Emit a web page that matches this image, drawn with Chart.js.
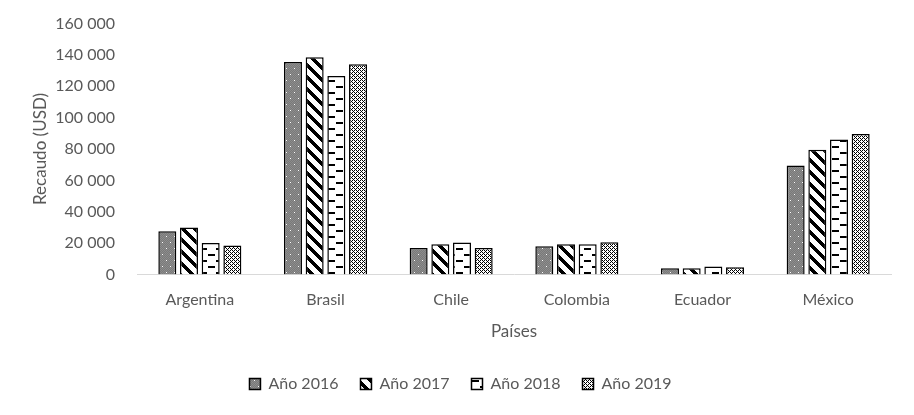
<!DOCTYPE html>
<html><head><meta charset="utf-8">
<script src="https://cdn.jsdelivr.net/npm/chart.js@4.4.0/dist/chart.umd.min.js"></script>
<style>html,body{margin:0;padding:0;background:#fff;}#wrap{width:914px;height:415px;}</style>
</head><body><div id="wrap"><canvas id="c" width="914" height="415"></canvas></div>
<script>
const categories = ["Argentina","Brasil","Chile","Colombia","Ecuador","México"];
const seriesNames = ["Año 2016","Año 2017","Año 2018","Año 2019"];
const y2016 = [27500, 135500, 16800, 18000, 3900, 69500];
const y2017 = [30000, 138500, 19200, 19200, 3900, 79500];
const y2018 = [20000, 126500, 20300, 19200, 5000, 86000];
const y2019 = [18500, 134000, 16800, 20500, 4500, 89500];
const yTicks = [0,20000,40000,60000,80000,100000,120000,140000,160000];

function mk(w,h,draw){const c=document.createElement('canvas');c.width=w;c.height=h;const g=c.getContext('2d');draw(g);return document.getElementById('c').getContext('2d').createPattern(c,'repeat');}
const p2016 = mk(8,12,g=>{g.fillStyle='#7a7a7a';g.fillRect(0,0,8,12);g.fillStyle='#8c8c8c';for(let i=0;i<8;i++)for(let j=0;j<12;j++)if((i+j)%2==0)g.fillRect(i,j,1,1);g.fillStyle='#fff';g.fillRect(2,2,1,1);g.fillRect(6,8,1,1);});
const p2017 = mk(12,12,g=>{g.fillStyle='#fff';g.fillRect(0,0,12,12);g.fillStyle='#000';for(let y=0;y<12;y++){for(let k=0;k<5;k++){g.fillRect((y+k)%12,y,1,1);}}});
const p2018 = mk(16,12,g=>{g.fillStyle='#fff';g.fillRect(0,0,16,12);g.fillStyle='#000';g.fillRect(0,2,7,2);g.fillRect(8,8,7,2);});
const p2019 = mk(4,4,g=>{g.fillStyle='#fff';g.fillRect(0,0,4,4);g.fillStyle='#000';g.fillRect(0,0,1,1);g.fillRect(2,0,1,1);g.fillRect(0,2,1,1);g.fillRect(2,2,1,1);g.fillRect(3,1,1,1);g.fillRect(1,3,1,1);});

const fills=[p2016,p2017,p2018,p2019];
const data=[y2016,y2017,y2018,y2019];
const font="Lato, 'Open Sans', sans-serif";
new Chart(document.getElementById('c'),{
 type:'bar',
 data:{labels:categories,datasets:seriesNames.map((n,i)=>({label:n,data:data[i],backgroundColor:fills[i],borderColor:'#000',borderWidth:1.5,categoryPercentage:0.69,barPercentage:0.83}))},
 options:{responsive:false,animation:false,
  layout:{padding:{left:30,right:23,top:14,bottom:13}},
  plugins:{legend:{position:'bottom',labels:{boxWidth:11,boxHeight:11,color:'#595959',font:{family:font,size:16},padding:22},},tooltip:{enabled:false}},
  scales:{
   x:{grid:{display:false,drawTicks:false},border:{color:'#d9d9d9',width:1},ticks:{color:'#595959',font:{family:font,size:16},padding:16},
      title:{display:true,text:'Países',color:'#595959',font:{family:font,size:17},padding:{top:-4,bottom:12}}},
   y:{min:0,max:160000,afterBuildTicks:a=>{a.ticks=yTicks.map(v=>({value:v}));},afterFit:s=>{s.width=107;},grid:{display:false},border:{display:false},
      ticks:{color:'#595959',font:{family:font,size:16},padding:14,callback:v=>String(v).replace(/\B(?=(\d{3})+(?!\d))/g,' ')},
      title:{display:true,text:'Recaudo (USD)',color:'#595959',font:{family:font,size:17},padding:{top:0,bottom:0}}}
  }}
});
</script></body></html>
